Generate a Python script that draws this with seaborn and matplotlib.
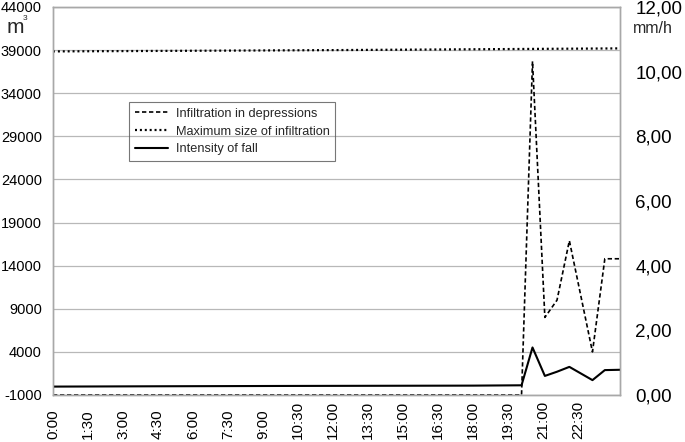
import matplotlib
matplotlib.use("Agg")
import matplotlib.pyplot as plt
import seaborn as sns
import pandas as pd

# ---- data ----
infil_hours = [0, 20.08, 20.55, 21.08, 21.6, 22.13, 23.12, 23.65, 24.3]
infil_m3 = [-1000, -1000, 37700, 8000, 10000, 16900, 4000, 14800, 14800]

max_hours = [0, 12, 24.3]
max_m3 = [38850, 39000, 39200]

rain_hours = [0, 4.5, 10, 18, 20.08, 20.55, 21.08, 21.6, 22.13, 23.12, 23.65, 24.3]
rain_mmh = [0.26, 0.27, 0.28, 0.29, 0.30, 1.47, 0.59, 0.72, 0.87, 0.46, 0.77, 0.78]

xtick_hours = [i * 1.5 for i in range(16)]
xtick_labels = ["0:00", "1:30", "3:00", "4:30", "6:00", "7:30", "9:00", "10:30",
                "12:00", "13:30", "15:00", "16:30", "18:00", "19:30", "21:00", "22:30"]
left_ticks = list(range(-1000, 44001, 5000))
right_ticks = [0, 2, 4, 6, 8, 10, 12]
right_labels = ["0,00", "2,00", "4,00", "6,00", "8,00", "10,00", "12,00"]

sns.set_style("white")
plt.rcParams["font.family"] = ["Liberation Sans", "DejaVu Sans"]

fig = plt.figure(figsize=(6.85, 4.42), dpi=100)
ax = fig.add_axes([53 / 685, 1 - 395 / 442, 567 / 685, 388 / 442])
ax2 = ax.twinx()

df_inf = pd.DataFrame({"h": infil_hours, "v": infil_m3})
df_max = pd.DataFrame({"h": max_hours, "v": max_m3})
df_rain = pd.DataFrame({"h": rain_hours, "v": rain_mmh})

sns.lineplot(data=df_inf, x="h", y="v", ax=ax, color="black", lw=1.2,
             label="Infiltration in depressions")
sns.lineplot(data=df_max, x="h", y="v", ax=ax, color="black", lw=1.6,
             label="Maximum size of infiltration")
sns.lineplot(data=df_rain, x="h", y="v", ax=ax2, color="black", lw=1.5,
             label="Intensity of fall")
ax.lines[0].set_dashes((2.6, 1.6))
ax.lines[1].set_dashes((0.9, 1.3))

ax.set_xlim(0, 24.3)
ax.set_ylim(-1000, 44000)
ax2.set_ylim(0, 12)

ax.set_yticks(left_ticks)
ax.set_yticklabels([str(t) for t in left_ticks], fontsize=10.5)
ax.set_xticks(xtick_hours)
ax.set_xticklabels(xtick_labels, rotation=90, fontsize=11)
for lab in ax.get_xticklabels():
    lab.set_verticalalignment("bottom")
ax2.set_yticks(right_ticks)
ax2.set_yticklabels(right_labels, fontsize=13.5)

ax.set_xlabel("")
ax.set_ylabel("")
ax2.set_ylabel("")

ax.grid(axis="y", color="#b8b8b8", lw=0.9)
ax.grid(axis="x", visible=False)
ax2.grid(False)
ax.set_axisbelow(True)

for a in (ax, ax2):
    for s in a.spines.values():
        s.set_color("#a8a8a8")
        s.set_linewidth(1.0)
ax.tick_params(axis="y", length=0, pad=8, colors="black")
ax.tick_params(axis="x", length=0, pad=32, colors="black")
ax2.tick_params(axis="y", length=0, pad=11, colors="black")

# legend
h1, l1 = ax.get_legend_handles_labels()
h2, l2 = ax2.get_legend_handles_labels()
if ax2.get_legend():
    ax2.get_legend().remove()
leg = ax.legend(h1 + h2, l1 + l2, loc="upper left", bbox_to_anchor=(0.134, 0.755),
                borderaxespad=0, fontsize=9.2, frameon=True, fancybox=False,
                handlelength=2.6, handletextpad=0.6, labelspacing=0.45, borderpad=0.45)
leg.get_frame().set_facecolor("none")
leg.get_frame().set_edgecolor("#555555")
leg.get_frame().set_linewidth(0.8)

# unit labels
fig.text(7 / 685, 1 - 33 / 442, "m", fontsize=15, ha="left", va="baseline")
fig.text(23 / 685, 1 - 20 / 442, "3", fontsize=6, ha="left", va="baseline")
fig.text(633 / 685, 1 - 33 / 442, "mm/h", fontsize=11.5, ha="left", va="baseline")

fig.savefig("out.png", dpi=100)
